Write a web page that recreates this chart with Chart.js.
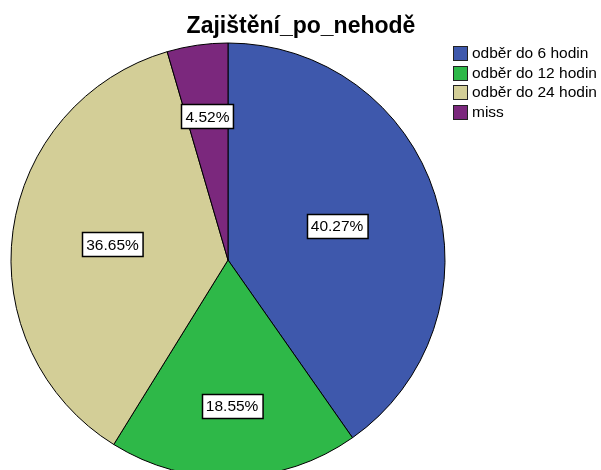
<!DOCTYPE html>
<html>
<head>
<meta charset="utf-8">
<script src="https://cdn.jsdelivr.net/npm/chart.js@4"></script>
<style>
  html, body { margin: 0; padding: 0; background: #fff; overflow: hidden; }
  #wrap { position: relative; width: 601px; height: 480px; }
</style>
</head>
<body>
<div id="wrap"><canvas id="pie-chart"></canvas></div>
<script>
// data
const chart_title = 'Zajištění_po_nehodě';
const categories = ['odběr do 6 hodin', 'odběr do 12 hodin', 'odběr do 24 hodin', 'miss'];
const percents = [40.27, 18.55, 36.65, 4.52];
const slice_colors = ['#3E58AC', '#2EB848', '#D3CE97', '#7B287D'];

const FONT = '"Liberation Sans", Arial, sans-serif';

// how far out (fraction of radius) each percent box sits, like SPSS does it
const label_radius = [0.527, 0.671, 0.537, 0.669];

const decorPlugin = {
	id: 'decor',
	afterDatasetsDraw(chart) {
		const c = chart.ctx;
		const meta = chart.getDatasetMeta(0);

		// percent boxes
		c.save();
		c.font = '15.5px ' + FONT;
		c.textAlign = 'center';
		c.textBaseline = 'middle';
		meta.data.forEach((arc, i) => {
			const mid = (arc.startAngle + arc.endAngle) / 2;
			const r = arc.outerRadius * label_radius[i];
			const x = arc.x + Math.cos(mid) * r;
			const y = arc.y + Math.sin(mid) * r;
			const txt = percents[i].toFixed(2) + '%';
			const w = c.measureText(txt).width + 8;
			const h = 24;
			const bx = Math.round(x - w / 2) + 0.5;
			const by = Math.round(y - h / 2) + 0.5;
			c.fillStyle = '#fff';
			c.fillRect(bx, by, w, h);
			c.strokeStyle = '#000';
			c.lineWidth = 1.5;
			c.strokeRect(bx, by, w, h);
			c.fillStyle = '#000';
			c.fillText(txt, x, y + 1);
		});
		c.restore();

		// title
		c.save();
		c.font = 'bold 23px ' + FONT;
		c.textAlign = 'center';
		c.textBaseline = 'alphabetic';
		c.fillStyle = '#000';
		c.fillText(chart_title, 301, 33);
		c.restore();

		// legend
		c.save();
		c.font = '15.5px ' + FONT;
		c.textBaseline = 'middle';
		categories.forEach((name, i) => {
			const cy = 53 + i * 19.5;
			c.fillStyle = slice_colors[i];
			c.fillRect(453.5, Math.round(cy - 7) + 0.5, 14, 14);
			c.strokeStyle = '#222';
			c.lineWidth = 1;
			c.strokeRect(453.5, Math.round(cy - 7) + 0.5, 14, 14);
			c.fillStyle = '#000';
			c.fillText(name, 472, cy + 1);
		});
		c.restore();
	}
};

const ctx = document.getElementById('pie-chart').getContext('2d');
new Chart(ctx, {
	type: 'pie',
	data: {
		labels: categories,
		datasets: [{
			data: percents,
			backgroundColor: slice_colors,
			borderColor: '#000',
			borderWidth: 1
		}]
	},
	options: {
		responsive: true,
		maintainAspectRatio: false,
		animation: false,
		events: [],
		layout: {
			padding: { left: 10.5, right: 155.5, top: 42.5, bottom: 2.5 }
		},
		plugins: {
			legend: { display: false },
			title: { display: false },
			tooltip: { enabled: false }
		}
	},
	plugins: [decorPlugin]
});
</script>
</body>
</html>
